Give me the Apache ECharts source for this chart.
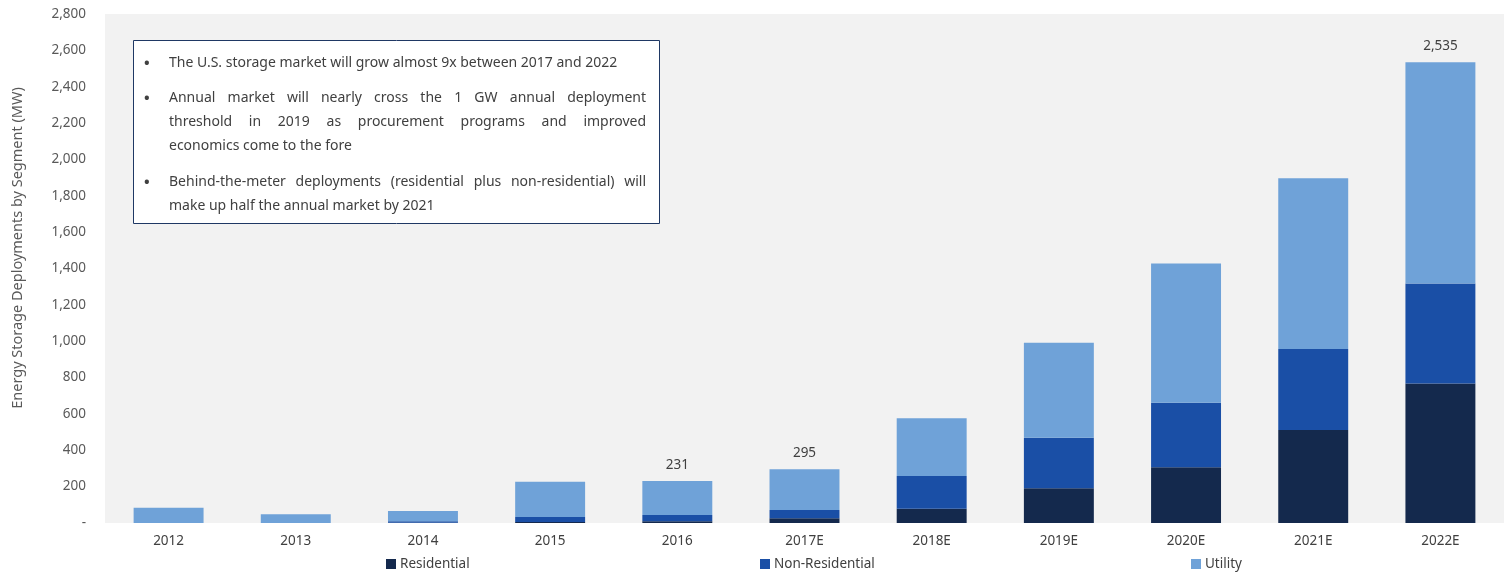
<!DOCTYPE html>
<html><head><meta charset="utf-8">
<script src="https://cdn.jsdelivr.net/npm/echarts@6/dist/echarts.min.js"></script>
<style>html,body{margin:0;padding:0;background:#fff}#c{width:1510px;height:573px}</style>
</head><body><div id="c"></div>
<script>
const categories = ['2012','2013','2014','2015','2016','2017E','2018E','2019E','2020E','2021E','2022E'];
const residential = [0, 0, 2, 5, 10, 26, 79, 191, 306, 512, 768];
const nonResidential = [0, 0, 8, 28, 34, 45, 179, 278, 356, 445, 550];
const utility = [84, 48, 56, 194, 187, 224, 318, 523, 766, 939, 1217];
const totalLabels = ['', '', '', '', '231', '295', '', '', '', '', '2,535'];
const seriesNames = ['Residential', 'Non-Residential', 'Utility'];
const yAxisTitle = 'Energy Storage Deployments by Segment (MW)';
const noteBullets = [
  {lines: ['The U.S. storage market will grow almost 9x between 2017 and 2022'], justify: [false]},
  {lines: ['Annual market will nearly cross the 1 GW annual deployment', 'threshold in 2019 as procurement programs and improved', 'economics come to the fore'], justify: [true, true, false]},
  {lines: ['Behind-the-meter deployments (residential plus non-residential) will', 'make up half the annual market by 2021'], justify: [true, false]}
];

const FONT = '"Noto Sans", "Open Sans", sans-serif';
const TXT = '#404040';
const colors = ['#14294d', '#1a4fa6', '#6fa2d8'];

const chart = echarts.init(document.getElementById('c'));

const noteFontSize = 14;
const ctx = document.createElement('canvas').getContext('2d');
ctx.font = noteFontSize + 'px ' + FONT;
const boxL = 133, boxT = 40, boxW = 526, boxH = 183;
const textL = 169, textR = 646;
const graphics = [{
  type: 'rect', left: boxL, top: boxT, shape: {width: boxW, height: boxH},
  style: {fill: '#ffffff', stroke: '#1f3864', lineWidth: 1}, z: 10
}, {
  type: 'text', z: 11, x: 18, y: 248, rotation: Math.PI / 2,
  style: {text: yAxisTitle, font: '14.5px ' + FONT, fill: '#595959', align: 'center', verticalAlign: 'middle'}
}];
const lineYs = [[62], [97, 121, 145], [181, 205]];
noteBullets.forEach((b, bi) => {
  graphics.push({type: 'text', left: 144, top: lineYs[bi][0] - 6, z: 11,
    style: {text: '•', font: 'bold 15px ' + FONT, fill: TXT}});
  b.lines.forEach((ln, li) => {
    const y = lineYs[bi][li] - 6;
    if (!b.justify[li]) {
      graphics.push({type: 'text', left: textL, top: y, z: 11,
        style: {text: ln, font: noteFontSize + 'px ' + FONT, fill: TXT}});
    } else {
      const words = ln.split(' ');
      const widths = words.map(w => ctx.measureText(w).width);
      const total = widths.reduce((a, c) => a + c, 0);
      const gap = (textR - textL - total) / (words.length - 1);
      let x = textL;
      words.forEach((w, wi) => {
        graphics.push({type: 'text', left: x, top: y, z: 11,
          style: {text: w, font: noteFontSize + 'px ' + FONT, fill: TXT}});
        x += widths[wi] + gap;
      });
    }
  });
});

const option = {
  animation: false,
  color: colors,
  textStyle: {fontFamily: FONT},
  grid: {left: 105, right: 6, top: 14, bottom: 50, backgroundColor: '#f2f2f2', show: true, borderWidth: 0},
  legend: [0, 1, 2].map((i) => ({
    data: [seriesNames[i]], left: [381, 755, 1186][i], top: 552,
    icon: 'rect', itemWidth: 10, itemHeight: 10, itemGap: 4,
    textStyle: {color: TXT, fontSize: 13.5, fontFamily: FONT, padding: [0, 0, 0, -1]}
  })),
  xAxis: {
    type: 'category', data: categories,
    axisLine: {show: false}, axisTick: {show: false},
    axisLabel: {color: TXT, fontSize: 13.5, margin: 11, fontFamily: FONT}
  },
  yAxis: {
    type: 'value', min: 0, max: 2800, interval: 200,
    splitLine: {show: false}, axisLine: {show: false}, axisTick: {show: false},
    axisLabel: {color: '#595959', fontSize: 13.5, margin: 19, fontFamily: FONT,
      formatter: v => v === 0 ? '-' : v.toLocaleString('en-US')}
  },
  series: [
    {name: seriesNames[0], type: 'bar', stack: 's', data: residential, barWidth: '55%'},
    {name: seriesNames[1], type: 'bar', stack: 's', data: nonResidential, barWidth: '55%'},
    {name: seriesNames[2], type: 'bar', stack: 's', data: utility, barWidth: '55%',
      label: {show: true, position: 'top', distance: 9, color: TXT, fontSize: 13.5, fontFamily: FONT,
        formatter: p => totalLabels[p.dataIndex]}}
  ],
  graphic: graphics
};
chart.setOption(option);
</script></body></html>
